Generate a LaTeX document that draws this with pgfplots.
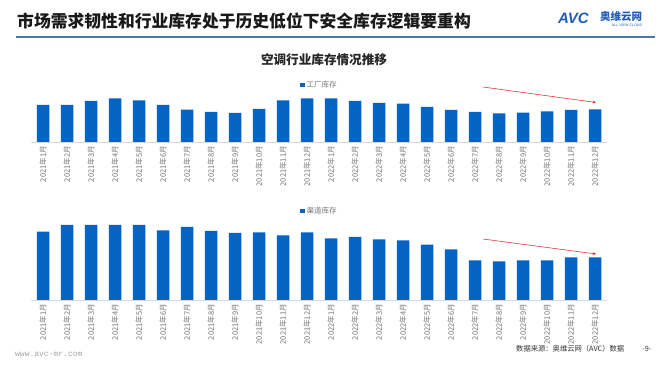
\documentclass[border=0pt]{standalone}
\usepackage{pgfplots}
\pgfplotsset{compat=1.18}
\usetikzlibrary{arrows.meta}
\usepackage{fontspec}
\setmainfont{Noto Sans CJK SC}
\newfontfamily\monofont{Liberation Mono}
\newfontfamily\logofont{Liberation Sans}
\definecolor{barblue}{HTML}{0563C1}
\definecolor{tickgray}{HTML}{737373}
\definecolor{linegray}{HTML}{D9D9D9}
\definecolor{titleline}{HTML}{4A78A6}
\definecolor{logoblue}{HTML}{1F5DB8}
\definecolor{arrowred}{HTML}{E0393E}
\begin{document}
\begin{tikzpicture}[x=1pt,y=1pt]
\path[use as bounding box] (0,0) rectangle (671,366);
% header
\node[anchor=west,inner sep=0pt,text=black!90] at (17,344.5) {\fontsize{16.8}{18}\selectfont\bfseries 市场需求韧性和行业库存处于历史低位下安全库存逻辑要重构};
\draw[titleline,line width=1.4pt] (16,329) -- (655,329);
\node[anchor=west,inner sep=0pt,text=logoblue] at (558,348) {\logofont\fontsize{15}{16}\selectfont\bfseries\itshape AVC};
\node[anchor=west,inner sep=0pt,text=logoblue] at (600,349) {\fontsize{10.5}{12}\selectfont\bfseries 奥维云网};
\node[inner sep=0pt,text=logoblue] at (627,340.5) {\logofont\fontsize{3.6}{4}\selectfont ALL VIEW CLOUD};
\node[inner sep=0pt,text=black!85] at (324,306.5) {\fontsize{12.6}{14}\selectfont\bfseries 空调行业库存情况推移};
% footer
\node[anchor=west,inner sep=0pt,text=black!35] at (15,12) {\monofont\fontsize{8}{9}\selectfont www.avc-mr.com};
\node[anchor=west,inner sep=0pt,text=black!80] at (516,17) {\fontsize{7.3}{8}\selectfont 数据来源：奥维云网（AVC）数据};
\node[inner sep=0pt,text=black!80] at (647,17) {\fontsize{7.3}{8}\selectfont -9-};
% top chart
\begin{axis}[at={(31pt,224pt)},anchor=south west,scale only axis,
  width=576pt,height=50pt,xmin=-0.5,xmax=23.5,ymin=0,ymax=50,clip=false,
  axis y line=none,axis x line*=bottom,x axis line style={draw=linegray,line width=0.8pt,-},
  ytick=\empty,xtick=data,major tick length=0pt,
  xticklabels={2021年1月,2021年2月,2021年3月,2021年4月,2021年5月,2021年6月,2021年7月,2021年8月,2021年9月,2021年10月,2021年11月,2021年12月,2022年1月,2022年2月,2022年3月,2022年4月,2022年5月,2022年6月,2022年7月,2022年8月,2022年9月,2022年10月,2022年11月,2022年12月},
  x tick label style={rotate=90,anchor=east,font=\fontsize{7.5}{8}\selectfont,text=tickgray,inner sep=1pt,xshift=-3pt},
  legend image code/.code={\fill[barblue] (0pt,-2.2pt) rectangle (4.4pt,2.2pt);},
  legend style={at={(0.467,1.14)},anchor=west,draw=none,fill=none,inner sep=0pt,font=\fontsize{7.5}{8}\selectfont,text=tickgray},
  ]
\addplot[ybar,bar width=12.5pt,fill=barblue,draw=none] coordinates {
(0,37) (1,37) (2,41) (3,43.7) (4,41.7) (5,37) (6,32.3) (7,30) (8,29) (9,33) (10,41.7) (11,43.7)
(12,43.7) (13,41) (14,39) (15,38.3) (16,35) (17,32) (18,30) (19,28.7) (20,29.3) (21,30.7) (22,32) (23,32.7)};
\addlegendentry{工厂库存}
\draw[arrowred,line width=0.6pt,-{Latex[length=3pt,width=3pt]}] (axis cs:18.33,55) -- (axis cs:23.05,39.5);
\end{axis}
% bottom chart
\begin{axis}[at={(31pt,66pt)},anchor=south west,scale only axis,
  width=576pt,height=80pt,xmin=-0.5,xmax=23.5,ymin=0,ymax=80,clip=false,
  axis y line=none,axis x line*=bottom,x axis line style={draw=linegray,line width=0.8pt,-},
  ytick=\empty,xtick=data,major tick length=0pt,
  xticklabels={2021年1月,2021年2月,2021年3月,2021年4月,2021年5月,2021年6月,2021年7月,2021年8月,2021年9月,2021年10月,2021年11月,2021年12月,2022年1月,2022年2月,2022年3月,2022年4月,2022年5月,2022年6月,2022年7月,2022年8月,2022年9月,2022年10月,2022年11月,2022年12月},
  x tick label style={rotate=90,anchor=east,font=\fontsize{7.5}{8}\selectfont,text=tickgray,inner sep=1pt,xshift=-3pt},
  legend image code/.code={\fill[barblue] (0pt,-2.2pt) rectangle (4.4pt,2.2pt);},
  legend style={at={(0.467,1.11)},anchor=west,draw=none,fill=none,inner sep=0pt,font=\fontsize{7.5}{8}\selectfont,text=tickgray},
  ]
\addplot[ybar,bar width=12.5pt,fill=barblue,draw=none] coordinates {
(0,68.3) (1,75) (2,75) (3,75) (4,75) (5,69.7) (6,73) (7,69) (8,67) (9,67.7) (10,64.7) (11,67.7)
(12,61.7) (13,63) (14,60.7) (15,59.7) (16,55.3) (17,50.7) (18,39.7) (19,38.7) (20,39.7) (21,39.7) (22,42.7) (23,42.7)};
\addlegendentry{渠道库存}
\draw[arrowred,line width=0.6pt,-{Latex[length=3pt,width=3pt]}] (axis cs:18.33,61) -- (axis cs:23.05,46);
\end{axis}
\end{tikzpicture}
\end{document}
